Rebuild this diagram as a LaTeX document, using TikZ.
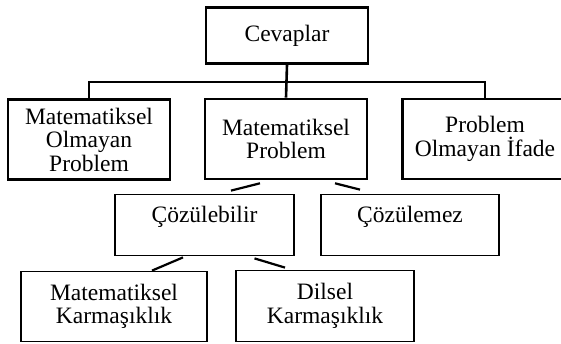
\documentclass[tikz,border=0pt]{standalone}
\usepackage{fontspec}
\setmainfont{Liberation Serif}
\usetikzlibrary{calc}
\begin{document}
\begin{tikzpicture}[x=1pt,y=-1pt,
  txt/.style={rectangle, draw, inner sep=0pt, align=center,
              font=\fontsize{23.5}{23.5}\selectfont},
  topbox/.style={txt, line width=2.6pt},
  lowbox/.style={txt, line width=1.8pt},
  tree/.style={line width=2.6pt},
  diag/.style={line width=2.2pt}]
\useasboundingbox (0,0) rectangle (561,344);
% top level
\node[topbox, minimum width=162pt, minimum height=56pt] (cev) at (287,35.5) {Cevaplar};
% second level
\node[topbox, minimum width=162pt, minimum height=80pt] (lo) at (89,139.5) {Matematiksel\\Olmayan\\Problem};
\node[topbox, minimum width=162pt, minimum height=80pt] (mp) at (286,139) {Matematiksel\\Problem};
\node[topbox, minimum width=165pt, minimum height=80pt] (ri) at (485,139) {Problem\\Olmayan İfade};
% third level
\node[lowbox, minimum width=179pt, minimum height=61pt, text height=16pt, text depth=20pt] (cz1) at (204.5,225) {Çözülebilir};
\node[lowbox, minimum width=178pt, minimum height=61pt, text height=16pt, text depth=20pt] (cz2) at (410,225) {Çözülemez};
% fourth level
\node[lowbox, minimum width=186pt, minimum height=70pt] (mk) at (114,306.5) {Matematiksel\\Karmaşıklık};
\node[lowbox, minimum width=178pt, minimum height=71pt] (dk) at (325,306) {Dilsel\\Karmaşıklık};
% tree connectors
\coordinate (bar) at (286,82);
\draw[tree] (cev.south) -- (mp.north);
\draw[tree] (lo.north) |- (bar) -| (ri.north);
% diagonal connectors
\draw[diag] ($(mp.south)+(-26,3)$) -- ($(cz1.north)+(26.5,-3)$);
\draw[diag] ($(mp.south)+(49,3)$) -- ($(cz2.north)+(-50,-4)$);
\draw[diag] ($(cz1.south)+(-21.5,1)$) -- ($(mk.north)+(38,0)$);
\draw[diag] ($(cz1.south)+(50,2)$) -- ($(dk.north)+(-40,-2)$);
\end{tikzpicture}
\end{document}
